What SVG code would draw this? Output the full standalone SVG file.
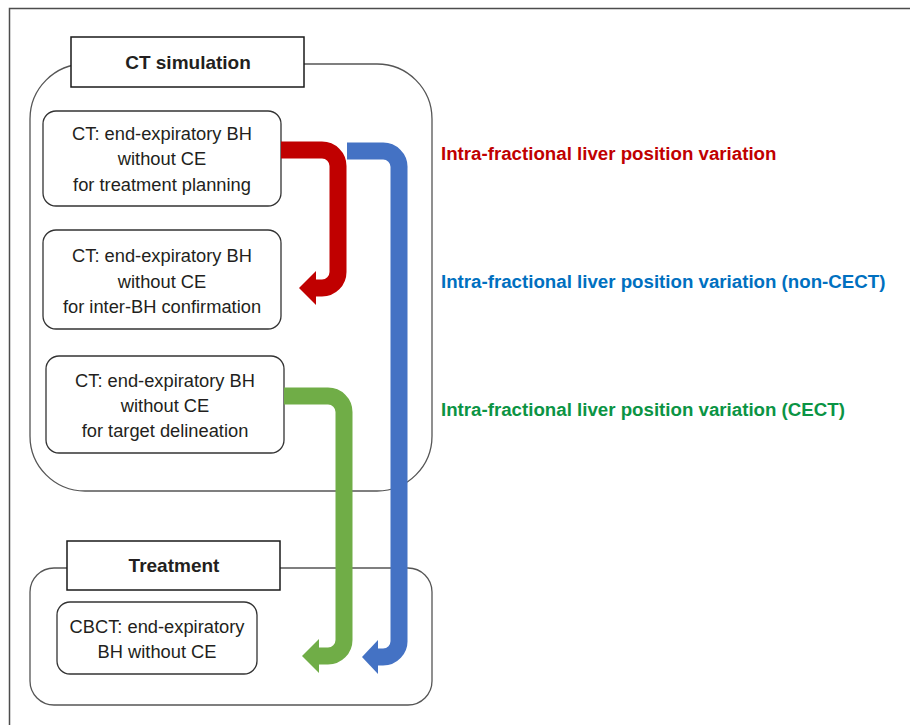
<svg xmlns="http://www.w3.org/2000/svg" width="910" height="725" viewBox="0 0 910 725">
<style>
.frame{fill:none;stroke:#4d4d4d;stroke-width:1.5}
.cont{fill:#fff;stroke:#555;stroke-width:1.3}
.title{fill:#fff;stroke:#1a1a1a;stroke-width:1.5}
.node{fill:#fff;stroke:#333;stroke-width:1.3}
.tt{font-family:"Liberation Sans",Arial,sans-serif;font-weight:bold;font-size:19px;fill:#231f20;text-anchor:middle}
.nt{font-family:"Liberation Sans",Arial,sans-serif;font-size:18.3px;fill:#231f20;text-anchor:middle}
.lab{font-family:"Liberation Sans",Arial,sans-serif;font-weight:bold;font-size:18.7px}
.arr{fill:none;stroke-width:17}
</style>
<rect width="910" height="725" fill="#fff"/>
<path class="frame" d="M9.5,725 V8.5 H910"/>
<g id="ct-simulation">
<rect class="cont" x="30" y="64" width="402" height="427" rx="55" ry="55"/>
<rect class="title" x="71" y="37" width="233" height="50"/>
<text class="tt" x="188" y="69">CT simulation</text>
</g>
<g id="treatment">
<rect class="cont" x="30" y="568" width="402" height="137" rx="24" ry="24"/>
<rect class="title" x="67" y="541" width="213" height="49"/>
<text class="tt" x="174" y="572">Treatment</text>
</g>
<g id="node-planning">
<rect class="node" x="43" y="111" width="238" height="95" rx="13"/>
<text class="nt" x="162" y="140">CT: end-expiratory BH</text>
<text class="nt" x="162" y="165">without CE</text>
<text class="nt" x="162" y="191">for treatment planning</text>
</g>
<g id="node-confirmation">
<rect class="node" x="43" y="230" width="238" height="99" rx="13"/>
<text class="nt" x="162" y="262">CT: end-expiratory BH</text>
<text class="nt" x="162" y="288">without CE</text>
<text class="nt" x="162" y="313">for inter-BH confirmation</text>
</g>
<g id="node-delineation">
<rect class="node" x="46" y="356" width="238" height="97" rx="13"/>
<text class="nt" x="165" y="387">CT: end-expiratory BH</text>
<text class="nt" x="165" y="412">without CE</text>
<text class="nt" x="165" y="437">for target delineation</text>
</g>
<g id="node-cbct">
<rect class="node" x="57" y="602" width="200" height="72" rx="13"/>
<text class="nt" x="157" y="633">CBCT: end-expiratory</text>
<text class="nt" x="157" y="658">BH without CE</text>
</g>
<g id="connectors">
<path class="arr" stroke="#4472c4" d="M347,151 H382 A16,16 0 0 1 399,168 V640 A16,16 0 0 1 383,657 H376"/>
<polygon fill="#4472c4" points="378,640 362,657 378,674"/>
<path class="arr" stroke="#c00000" d="M281,150 H322 A16,16 0 0 1 338,166 V272 A16,16 0 0 1 322,288 H314"/>
<polygon fill="#c00000" points="316,271 299,288 316,305"/>
<path class="arr" stroke="#70ad47" d="M284,396 H328 A16,16 0 0 1 344,412 V640 A16,16 0 0 1 328,656 H317"/>
<polygon fill="#70ad47" points="319,639 302,656 319,673"/>
</g>
<g id="labels">
<text class="lab" x="441" y="160" fill="#c00000">Intra-fractional liver position variation</text>
<text class="lab" x="441" y="288" fill="#0070c0">Intra-fractional liver position variation (non-CECT)</text>
<text class="lab" x="441" y="416" fill="#0b9444">Intra-fractional liver position variation (CECT)</text>
</g>
</svg>
